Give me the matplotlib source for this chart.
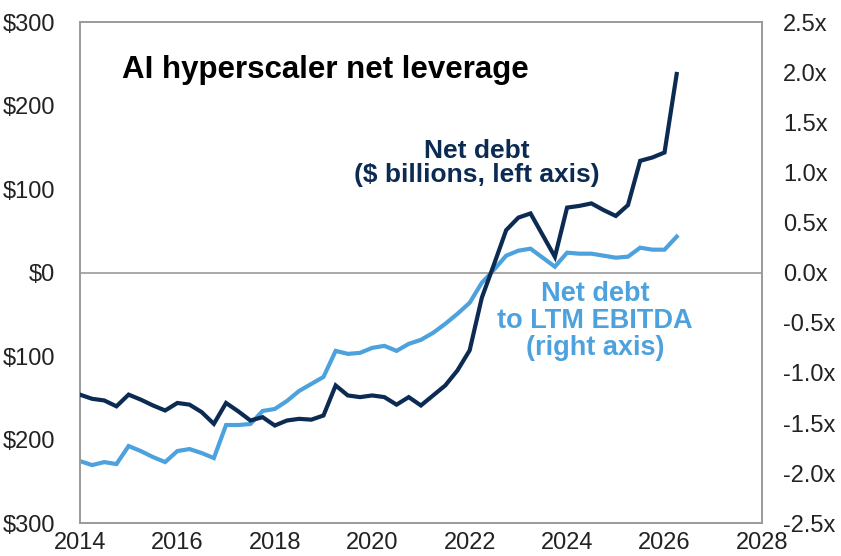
import matplotlib.pyplot as plt
import numpy as np

# quarterly observations, 2014Q1 .. 2026Q2
quarters = 2014 + np.arange(50) / 4

# net debt, $ billions (left axis)
net_debt = [
    -146, -151, -153, -160, -146, -152, -159, -165, -156, -158,
    -167, -181, -156, -166, -177, -173, -183, -177, -175, -176,
    -171, -135, -147, -149, -147, -149, -158, -149, -159, -147,
    -135, -117, -93, -30, 10, 51, 66, 71, 45, 19,
    78, 80, 83, 75, 68, 81, 134, 138, 144, 238,
]

# net debt to LTM EBITDA, x (right axis)
leverage = [
    -1.88, -1.92, -1.89, -1.91, -1.73, -1.78, -1.84, -1.89, -1.78, -1.76,
    -1.80, -1.85, -1.52, -1.52, -1.51, -1.38, -1.36, -1.28, -1.18, -1.11,
    -1.04, -0.78, -0.81, -0.80, -0.75, -0.73, -0.78, -0.71, -0.67, -0.60,
    -0.51, -0.41, -0.30, -0.10, 0.03, 0.17, 0.22, 0.24, 0.15, 0.06,
    0.20, 0.19, 0.19, 0.17, 0.15, 0.16, 0.25, 0.23, 0.23, 0.36,
]

left_ticks = [-300, -200, -100, 0, 100, 200, 300]
left_labels = ["$300", "$200", "$100", "$0", "$100", "$200", "$300"]
right_ticks = [-2.5, -2.0, -1.5, -1.0, -0.5, 0.0, 0.5, 1.0, 1.5, 2.0, 2.5]
right_labels = ["-2.5x", "-2.0x", "-1.5x", "-1.0x", "-0.5x", "0.0x",
                "0.5x", "1.0x", "1.5x", "2.0x", "2.5x"]
year_ticks = [2014, 2016, 2018, 2020, 2022, 2024, 2026, 2028]

DARK = "#0c2b52"
LIGHT = "#4da2de"
GREY = "#9a9a9a"

plt.rcParams['font.family'] = ['Liberation Sans', 'DejaVu Sans']

fig = plt.figure(figsize=(8.41, 5.56), dpi=100)
ax = fig.add_axes([0.095, 0.059, 0.811, 0.901])
ax2 = ax.twinx()

ax.axhline(0, color=GREY, lw=1.2, zorder=1)
ax2.plot(quarters, leverage, color=LIGHT, lw=3, solid_joinstyle='miter')
ax.plot(quarters, net_debt, color=DARK, lw=3, solid_joinstyle='miter', zorder=3)

ax.set_zorder(ax2.get_zorder() + 1)
ax.patch.set_visible(False)

ax.set_xlim(2014, 2028)
ax.set_ylim(-300, 300)
ax2.set_ylim(-2.5, 2.5)

ax.set_xticks(year_ticks)
ax.set_xticklabels([str(y) for y in year_ticks])
ax.set_yticks(left_ticks)
ax.set_yticklabels(left_labels)
ax2.set_yticks(right_ticks)
ax2.set_yticklabels(right_labels)

ax.tick_params(axis='x', length=0, pad=6, labelsize=17, colors='#222222')
ax.tick_params(axis='y', length=0, pad=18, labelsize=17, colors='#222222')
ax2.tick_params(axis='y', length=0, pad=15, labelsize=17, colors='#222222')

for a in (ax, ax2):
    for s in a.spines.values():
        s.set_color(GREY)
        s.set_linewidth(1.2)

ax.text(0.062, 0.904, "AI hyperscaler net leverage", transform=ax.transAxes,
        ha='left', va='center', fontsize=22.5, fontweight='bold', color='black')
ax.text(0.582, 0.719, "Net debt\n($ billions, left axis)", transform=ax.transAxes,
        ha='center', va='center', fontsize=19, fontweight='bold', color=DARK,
        linespacing=1.05, multialignment='center')
ax.text(0.755, 0.403, "Net debt\nto LTM EBITDA\n(right axis)", transform=ax.transAxes,
        ha='center', va='center', fontsize=19.5, fontweight='bold', color=LIGHT,
        linespacing=1.05, multialignment='center')

plt.savefig("out.png", dpi=100)
